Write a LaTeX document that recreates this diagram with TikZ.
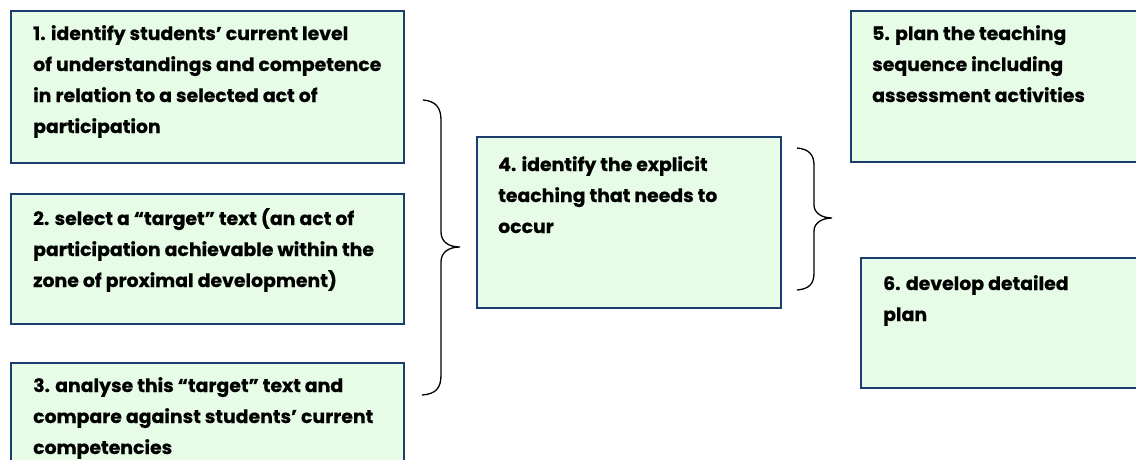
\documentclass[tikz,border=0pt]{standalone}
\usepackage{fontspec}
\setmainfont{Poppins}[FakeStretch=1.02,BoldFeatures={FakeBold=0.6}]
\definecolor{boxfill}{RGB}{230,252,230}
\definecolor{boxline}{RGB}{28,62,110}
\begin{document}
\begin{tikzpicture}[x=1pt,y=-1pt,
  stepbox/.style={draw=boxline,line width=1.6pt,fill=boxfill},
  steptext/.style={anchor=base west,inner sep=0pt,align=left,
    font=\fontsize{18.5}{31}\selectfont\bfseries},
  brace/.style={draw=black,line width=1.3pt}]
\useasboundingbox (0,0) rectangle (1136,459);
% boxes
\path[stepbox] (11,11) rectangle (404,163);
\path[stepbox] (11,194) rectangle (404,324);
\path[stepbox] (11,363) rectangle (404,520);
\path[stepbox] (477,137) rectangle (781,308);
\path[stepbox] (851,11) rectangle (1160,162);
\path[stepbox] (861,258) rectangle (1160,388);
% texts (anchored at the baseline of their last line)
\node[steptext] (t1) at (33,133) {1. identify students’ current level\\of understandings and competence\\in relation to a selected act of\\participation};
\node[steptext] (t2) at (33,287) {2. select a “target” text (an act of\\participation achievable within the\\zone of proximal development)};
\node[steptext] (t3) at (33,454) {3. analyse this “target” text and\\compare against students’ current\\competencies};
\node[steptext] (t4) at (498,233) {4. identify the explicit\\teaching that needs to\\occur};
\node[steptext] (t5) at (872,102) {5. plan the teaching\\sequence including\\assessment activities};
\node[steptext] (t6) at (883,321) {6. develop detailed\\plan};
% braces
\coordinate (b1top) at (423,100);
\coordinate (b1tip) at (460,247);
\coordinate (b1bot) at (422,395);
\draw[brace] (b1top) .. controls (436,101) and (441,108) .. (441,120) -- (441,232)
  .. controls (441,242) and (449,247) .. (b1tip)
  .. controls (449,247) and (441,252) .. (441,262) -- (441,375)
  .. controls (441,388) and (436,394) .. (b1bot);
\coordinate (b2top) at (797,148);
\coordinate (b2tip) at (832,218);
\coordinate (b2bot) at (797,290);
\draw[brace] (b2top) .. controls (809,149) and (814,155) .. (814,165) -- (814,205)
  .. controls (814,213) and (822,218) .. (b2tip)
  .. controls (822,218) and (814,223) .. (814,231) -- (814,273)
  .. controls (814,284) and (809,289) .. (b2bot);
\end{tikzpicture}
\end{document}
